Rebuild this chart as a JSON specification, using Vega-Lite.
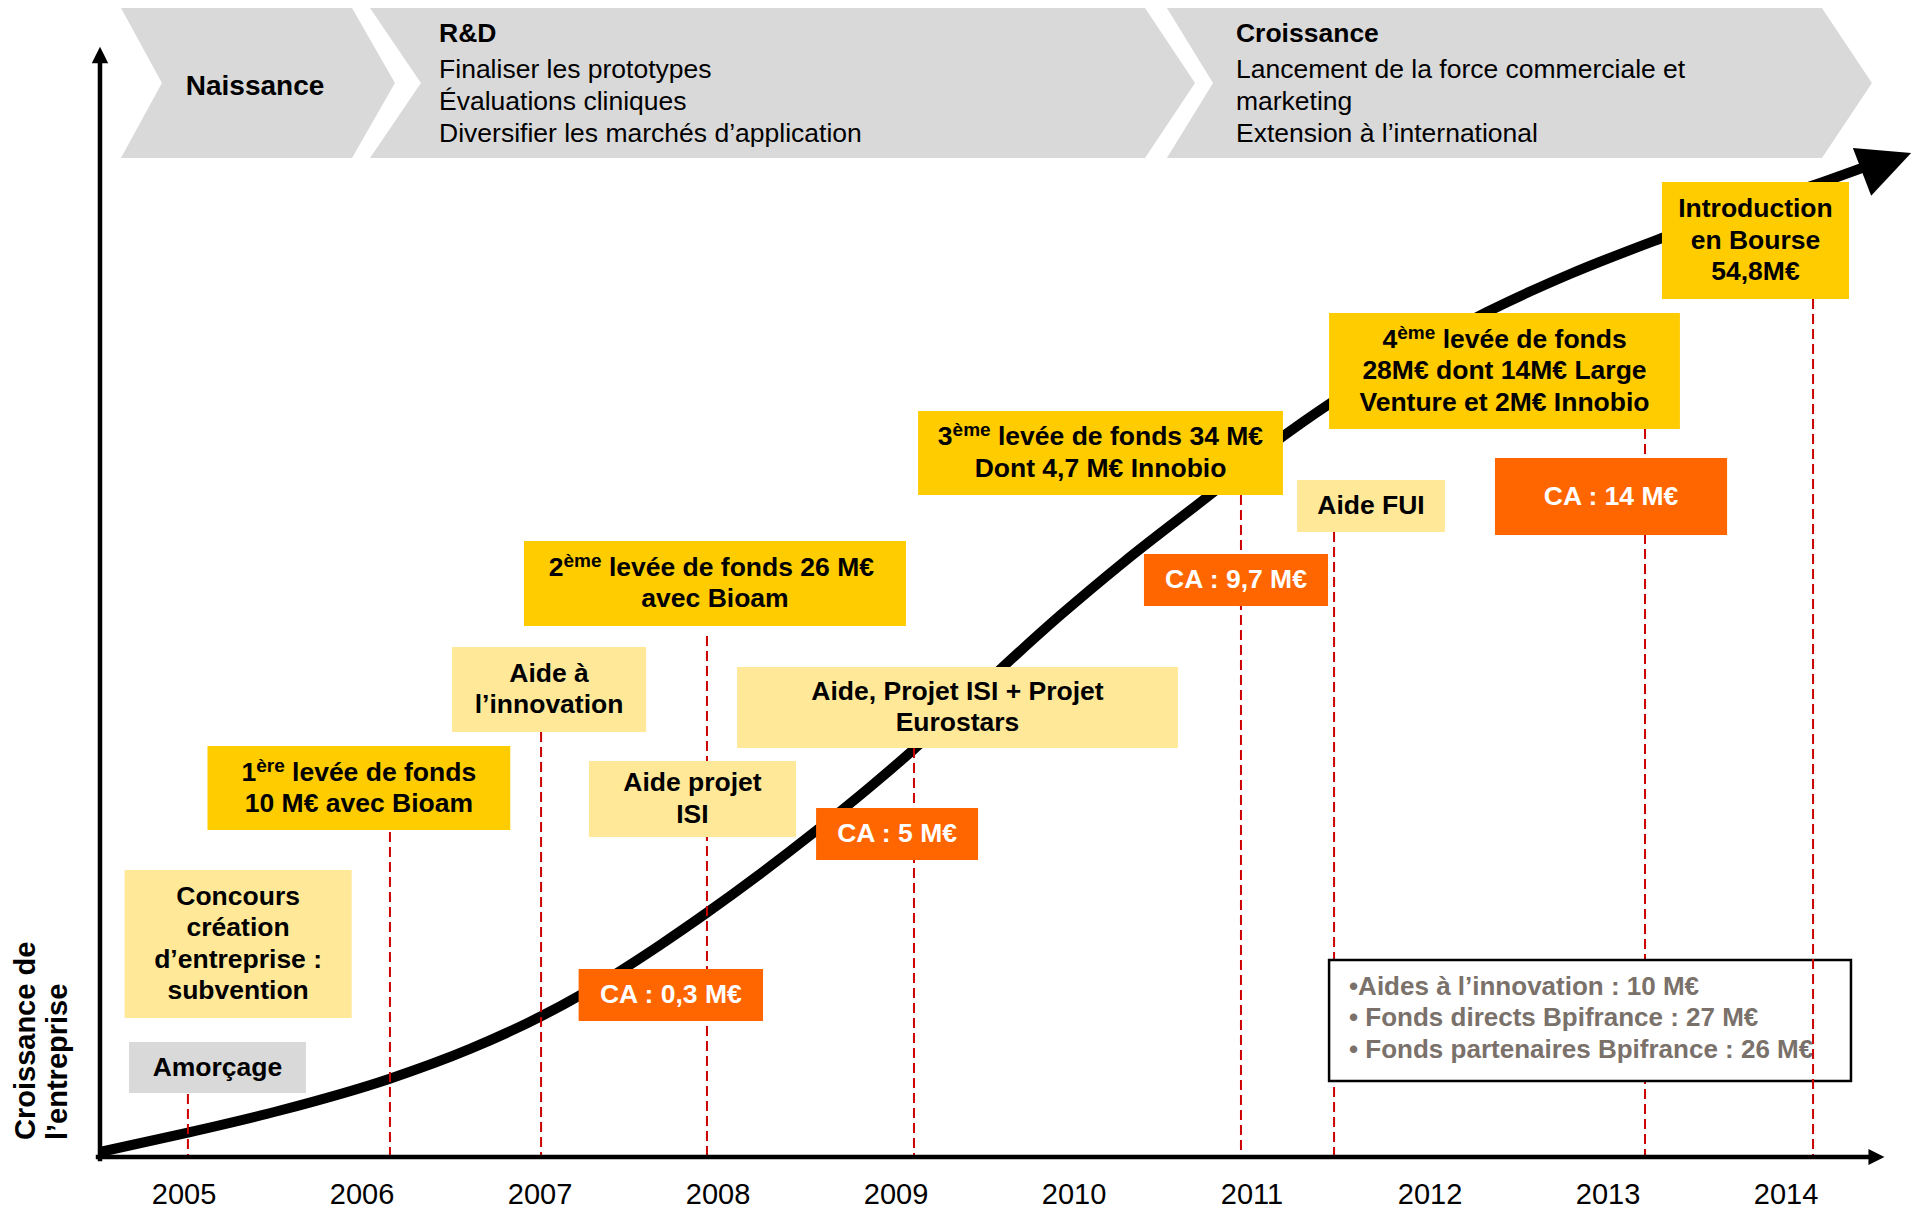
{
  "$schema": "https://vega.github.io/schema/vega-lite/v6.json",
  "width": 1914,
  "height": 1213,
  "padding": 0,
  "autosize": {"type": "none"},
  "background": "white",
  "config": {"view": {"stroke": null}, "font": "Liberation Sans"},
  "datasets": {
    "phases": [
      {"phase": "Naissance", "y": 114.9, "left": 2004.646, "right": 2005.944},
      {"phase": "Naissance", "y": 107.4, "left": 2004.876, "right": 2006.185},
      {"phase": "Naissance", "y": 99.9, "left": 2004.646, "right": 2005.944},
      {"phase": "R&D", "y": 114.9, "left": 2006.045, "right": 2010.399},
      {"phase": "R&D", "y": 107.4, "left": 2006.331, "right": 2010.68},
      {"phase": "R&D", "y": 99.9, "left": 2006.045, "right": 2010.399},
      {"phase": "Croissance", "y": 114.9, "left": 2010.522, "right": 2014.202},
      {"phase": "Croissance", "y": 107.4, "left": 2010.781, "right": 2014.483},
      {"phase": "Croissance", "y": 99.9, "left": 2010.522, "right": 2014.202}
    ],
    "phaseText": [
      {"text": "Naissance", "x": 2005.399, "y": 107.0, "role": "phase"},
      {"text": "R&D", "x": 2006.433, "y": 112.3, "role": "heading"},
      {"text": "Finaliser les prototypes", "x": 2006.433, "y": 108.7, "role": "detail"},
      {"text": "Évaluations cliniques", "x": 2006.433, "y": 105.5, "role": "detail"},
      {"text": "Diversifier les marchés d’application", "x": 2006.433, "y": 102.3, "role": "detail"},
      {"text": "Croissance", "x": 2010.91, "y": 112.3, "role": "heading"},
      {"text": "Lancement de la force commerciale et", "x": 2010.91, "y": 108.7, "role": "detail"},
      {"text": "marketing", "x": 2010.91, "y": 105.5, "role": "detail"},
      {"text": "Extension à l’international", "x": 2010.91, "y": 102.3, "role": "detail"}
    ],
    "curve": [
      {"x": 2004.528, "y": 0.5},
      {"x": 2005.022, "y": 2.44},
      {"x": 2005.539, "y": 4.65},
      {"x": 2006.152, "y": 7.81},
      {"x": 2006.607, "y": 10.81},
      {"x": 2007.006, "y": 14.07},
      {"x": 2007.219, "y": 16.12},
      {"x": 2007.438, "y": 18.46},
      {"x": 2007.674, "y": 21.19},
      {"x": 2007.938, "y": 24.43},
      {"x": 2008.236, "y": 28.3},
      {"x": 2008.534, "y": 32.38},
      {"x": 2008.854, "y": 37.0},
      {"x": 2009.096, "y": 40.7},
      {"x": 2009.36, "y": 44.98},
      {"x": 2009.59, "y": 48.83},
      {"x": 2009.921, "y": 54.14},
      {"x": 2010.281, "y": 59.52},
      {"x": 2010.787, "y": 66.54},
      {"x": 2011.18, "y": 72.14},
      {"x": 2011.433, "y": 75.29},
      {"x": 2011.831, "y": 79.7},
      {"x": 2012.32, "y": 84.5},
      {"x": 2012.787, "y": 88.3},
      {"x": 2013.303, "y": 91.9},
      {"x": 2013.798, "y": 95.1},
      {"x": 2014.208, "y": 97.5},
      {"x": 2014.427, "y": 98.9}
    ],
    "dashes": [
      {"x": 2005.022, "y": 6.3, "y2": 0},
      {"x": 2006.157, "y": 32.5, "y2": 0},
      {"x": 2007.006, "y": 42.5, "y2": 0},
      {"x": 2007.938, "y": 52.1, "y2": 0},
      {"x": 2009.101, "y": 40.9, "y2": 0},
      {"x": 2010.938, "y": 66.2, "y2": 0},
      {"x": 2011.461, "y": 62.5, "y2": 0},
      {"x": 2013.208, "y": 72.8, "y2": 0},
      {"x": 2014.152, "y": 85.8, "y2": 0}
    ],
    "boxes": [
      {"label": "Amorçage", "kind": "Amorçage", "x": 2004.691, "x2": 2005.685, "y": 11.5, "y2": 6.4},
      {"label": "Concours\ncréation\nd’entreprise :\nsubvention", "kind": "Aide", "x": 2004.666, "x2": 2005.942, "y": 28.7, "y2": 13.9},
      {"label": " \n10 M€ avec Bioam", "kind": "Levée de fonds", "x": 2005.132, "x2": 2006.833, "y": 41.1, "y2": 32.7},
      {"label": "Aide à\nl’innovation", "kind": "Aide", "x": 2006.506, "x2": 2007.596, "y": 51.0, "y2": 42.5},
      {"label": "Aide projet\nISI", "kind": "Aide", "x": 2007.275, "x2": 2008.438, "y": 39.6, "y2": 32.0},
      {"label": " \navec Bioam", "kind": "Levée de fonds", "x": 2006.91, "x2": 2009.056, "y": 61.6, "y2": 53.1},
      {"label": "CA : 0,3 M€", "kind": "CA", "x": 2007.217, "x2": 2008.253, "y": 18.8, "y2": 13.6},
      {"label": "Aide, Projet ISI + Projet\nEurostars", "kind": "Aide", "x": 2008.107, "x2": 2010.584, "y": 49.0, "y2": 40.9},
      {"label": "CA : 5 M€", "kind": "CA", "x": 2008.551, "x2": 2009.461, "y": 34.9, "y2": 29.7},
      {"label": " \nDont 4,7 M€ Innobio", "kind": "Levée de fonds", "x": 2009.124, "x2": 2011.174, "y": 74.6, "y2": 66.2},
      {"label": "CA : 9,7 M€", "kind": "CA", "x": 2010.393, "x2": 2011.427, "y": 60.3, "y2": 55.1},
      {"label": "Aide FUI", "kind": "Aide", "x": 2011.253, "x2": 2012.084, "y": 67.7, "y2": 62.5},
      {"label": " \n28M€ dont 14M€ Large\nVenture et 2M€ Innobio", "kind": "Levée de fonds", "x": 2011.433, "x2": 2013.404, "y": 84.4, "y2": 72.8},
      {"label": "CA : 14 M€", "kind": "CA", "x": 2012.365, "x2": 2013.669, "y": 69.9, "y2": 62.2},
      {"label": "Introduction\nen Bourse\n54,8M€", "kind": "Levée de fonds", "x": 2013.303, "x2": 2014.354, "y": 97.5, "y2": 85.8}
    ],
    "ordinals": [
      {"text": "1", "part": "base", "x": 2005.323, "y": 38.45},
      {"text": "ère", "part": "sup", "x": 2005.406, "y": 39.15},
      {"text": "levée de fonds", "part": "base", "x": 2005.607, "y": 38.45},
      {"text": "2", "part": "base", "x": 2007.049, "y": 58.93},
      {"text": "ème", "part": "sup", "x": 2007.132, "y": 59.63},
      {"text": "levée de fonds 26  M€", "part": "base", "x": 2007.387, "y": 58.93},
      {"text": "3", "part": "base", "x": 2009.235, "y": 71.98},
      {"text": "ème", "part": "sup", "x": 2009.318, "y": 72.68},
      {"text": "levée de fonds 34 M€", "part": "base", "x": 2009.573, "y": 71.98},
      {"text": "4", "part": "base", "x": 2011.733, "y": 81.75},
      {"text": "ème", "part": "sup", "x": 2011.816, "y": 82.45},
      {"text": "levée de fonds", "part": "base", "x": 2012.071, "y": 81.75}
    ],
    "summary": [
      {"text": "•Aides à l’innovation : 10 M€", "x": 2011.545, "y": 17.0},
      {"text": "• Fonds directs Bpifrance : 27 M€", "x": 2011.545, "y": 13.9},
      {"text": "• Fonds partenaires  Bpifrance : 26 M€", "x": 2011.545, "y": 10.7}
    ],
    "years": [
      {"x": 2005, "y": -3.8}, {"x": 2006, "y": -3.8}, {"x": 2007, "y": -3.8}, {"x": 2008, "y": -3.8}, {"x": 2009, "y": -3.8},
      {"x": 2010, "y": -3.8}, {"x": 2011, "y": -3.8}, {"x": 2012, "y": -3.8}, {"x": 2013, "y": -3.8}, {"x": 2014, "y": -3.8}
    ],
    "ytitle": [
      {"text": "Croissance de", "x": 2004.163, "y": 1.7},
      {"text": "l’entreprise", "x": 2004.343, "y": 1.7}
    ]
  },
  "layer": [
    {
      "data": {"name": "phases"},
      "mark": {"type": "area", "orient": "horizontal", "color": "#d9d9d9", "opacity": 1},
      "encoding": {
        "y": {"field": "y", "type": "quantitative", "scale": {"domain": [-5.6, 115.7], "nice": false, "zero": false}, "axis": null},
        "x": {"field": "left", "type": "quantitative", "scale": {"domain": [2003.9663, 2014.7191], "nice": false, "zero": false}, "axis": null, "stack": null},
        "x2": {"field": "right"},
        "detail": {"field": "phase", "type": "nominal"}
      }
    },
    {
      "data": {"name": "phaseText"},
      "transform": [{"filter": "datum.role === 'phase'"}],
      "mark": {"type": "text", "fontSize": 28, "fontWeight": "bold", "align": "center", "baseline": "middle", "color": "black"},
      "encoding": {
        "x": {"field": "x", "type": "quantitative", "scale": {"domain": [2003.9663, 2014.7191], "nice": false, "zero": false}, "axis": null},
        "y": {"field": "y", "type": "quantitative", "scale": {"domain": [-5.6, 115.7], "nice": false, "zero": false}, "axis": null},
        "text": {"field": "text"}
      }
    },
    {
      "data": {"name": "phaseText"},
      "transform": [{"filter": "datum.role === 'heading'"}],
      "mark": {"type": "text", "fontSize": 26.5, "fontWeight": "bold", "align": "left", "baseline": "middle", "color": "black"},
      "encoding": {
        "x": {"field": "x", "type": "quantitative", "scale": {"domain": [2003.9663, 2014.7191], "nice": false, "zero": false}, "axis": null},
        "y": {"field": "y", "type": "quantitative", "scale": {"domain": [-5.6, 115.7], "nice": false, "zero": false}, "axis": null},
        "text": {"field": "text"}
      }
    },
    {
      "data": {"name": "phaseText"},
      "transform": [{"filter": "datum.role === 'detail'"}],
      "mark": {"type": "text", "fontSize": 26.5, "fontWeight": "normal", "align": "left", "baseline": "middle", "color": "black"},
      "encoding": {
        "x": {"field": "x", "type": "quantitative", "scale": {"domain": [2003.9663, 2014.7191], "nice": false, "zero": false}, "axis": null},
        "y": {"field": "y", "type": "quantitative", "scale": {"domain": [-5.6, 115.7], "nice": false, "zero": false}, "axis": null},
        "text": {"field": "text"}
      }
    },
    {
      "data": {"name": "curve"},
      "mark": {"type": "line", "color": "black", "strokeWidth": 10, "interpolate": "monotone", "strokeCap": "butt"},
      "encoding": {
        "x": {"field": "x", "type": "quantitative", "scale": {"domain": [2003.9663, 2014.7191], "nice": false, "zero": false}, "axis": null},
        "y": {"field": "y", "type": "quantitative", "scale": {"domain": [-5.6, 115.7], "nice": false, "zero": false}, "axis": null}
      }
    },
    {
      "data": {"name": "dashes"},
      "transform": [{"filter": "datum.x < 2014"}],
      "mark": {"type": "rule", "color": "#cc0000", "strokeWidth": 2, "strokeDash": [10, 5]},
      "encoding": {
        "x": {"field": "x", "type": "quantitative", "scale": {"domain": [2003.9663, 2014.7191], "nice": false, "zero": false}, "axis": null},
        "y": {"field": "y", "type": "quantitative", "scale": {"domain": [-5.6, 115.7], "nice": false, "zero": false}, "axis": null},
        "y2": {"field": "y2"}
      }
    },
    {
      "data": {"name": "boxes"},
      "mark": {"type": "rect", "opacity": 1},
      "encoding": {
        "x": {"field": "x", "type": "quantitative", "scale": {"domain": [2003.9663, 2014.7191], "nice": false, "zero": false}, "axis": null},
        "x2": {"field": "x2"},
        "y": {"field": "y", "type": "quantitative", "scale": {"domain": [-5.6, 115.7], "nice": false, "zero": false}, "axis": null},
        "y2": {"field": "y2"},
        "color": {"field": "kind", "type": "nominal", "scale": {"domain": ["Amorçage", "Aide", "Levée de fonds", "CA"], "range": ["#d9d9d9", "#ffe999", "#ffcc00", "#ff6600"]}, "legend": null}
      }
    },
    {
      "data": {"name": "boxes"},
      "transform": [
        {"calculate": "(datum.x + datum.x2) / 2", "as": "xm"},
        {"calculate": "(datum.y + datum.y2) / 2 + (length(split(datum.label, '\\n')) - 1) * 1.575", "as": "ym"}
      ],
      "mark": {"type": "text", "fontSize": 26.5, "fontWeight": "bold", "align": "center", "baseline": "middle", "lineBreak": "\n", "lineHeight": 31.5},
      "encoding": {
        "x": {"field": "xm", "type": "quantitative", "scale": {"domain": [2003.9663, 2014.7191], "nice": false, "zero": false}, "axis": null},
        "y": {"field": "ym", "type": "quantitative", "scale": {"domain": [-5.6, 115.7], "nice": false, "zero": false}, "axis": null},
        "text": {"field": "label"},
        "color": {"condition": {"test": "datum.kind === 'CA'", "value": "white"}, "value": "black"}
      }
    },
    {
      "data": {"name": "ordinals"},
      "transform": [{"filter": "datum.part === 'base'"}],
      "mark": {"type": "text", "fontSize": 26.5, "fontWeight": "bold", "align": "left", "baseline": "middle", "color": "black"},
      "encoding": {
        "x": {"field": "x", "type": "quantitative", "scale": {"domain": [2003.9663, 2014.7191], "nice": false, "zero": false}, "axis": null},
        "y": {"field": "y", "type": "quantitative", "scale": {"domain": [-5.6, 115.7], "nice": false, "zero": false}, "axis": null},
        "text": {"field": "text"}
      }
    },
    {
      "data": {"name": "ordinals"},
      "transform": [{"filter": "datum.part === 'sup'"}],
      "mark": {"type": "text", "fontSize": 19, "fontWeight": "bold", "align": "left", "baseline": "middle", "color": "black"},
      "encoding": {
        "x": {"field": "x", "type": "quantitative", "scale": {"domain": [2003.9663, 2014.7191], "nice": false, "zero": false}, "axis": null},
        "y": {"field": "y", "type": "quantitative", "scale": {"domain": [-5.6, 115.7], "nice": false, "zero": false}, "axis": null},
        "text": {"field": "text"}
      }
    },
    {
      "data": {"values": [{"x": 2011.433, "x2": 2014.365, "y": 19.7, "y2": 7.6}]},
      "mark": {"type": "rect", "fill": "white", "stroke": "black", "strokeWidth": 2.5, "opacity": 1},
      "encoding": {
        "x": {"field": "x", "type": "quantitative", "scale": {"domain": [2003.9663, 2014.7191], "nice": false, "zero": false}, "axis": null},
        "x2": {"field": "x2"},
        "y": {"field": "y", "type": "quantitative", "scale": {"domain": [-5.6, 115.7], "nice": false, "zero": false}, "axis": null},
        "y2": {"field": "y2"}
      }
    },
    {
      "data": {"name": "summary"},
      "mark": {"type": "text", "fontSize": 26, "fontWeight": "bold", "align": "left", "baseline": "middle", "color": "#7a716b"},
      "encoding": {
        "x": {"field": "x", "type": "quantitative", "scale": {"domain": [2003.9663, 2014.7191], "nice": false, "zero": false}, "axis": null},
        "y": {"field": "y", "type": "quantitative", "scale": {"domain": [-5.6, 115.7], "nice": false, "zero": false}, "axis": null},
        "text": {"field": "text"}
      }
    },
    {
      "data": {"name": "dashes"},
      "transform": [{"filter": "datum.x > 2014"}],
      "mark": {"type": "rule", "color": "#cc0000", "strokeWidth": 2, "strokeDash": [10, 5]},
      "encoding": {
        "x": {"field": "x", "type": "quantitative", "scale": {"domain": [2003.9663, 2014.7191], "nice": false, "zero": false}, "axis": null},
        "y": {"field": "y", "type": "quantitative", "scale": {"domain": [-5.6, 115.7], "nice": false, "zero": false}, "axis": null},
        "y2": {"field": "y2"}
      }
    },
    {
      "data": {"values": [{"x": 2004.528, "y": -0.2, "y2": 109.9}]},
      "mark": {"type": "rule", "color": "black", "strokeWidth": 4.5, "strokeCap": "square"},
      "encoding": {
        "x": {"field": "x", "type": "quantitative", "scale": {"domain": [2003.9663, 2014.7191], "nice": false, "zero": false}, "axis": null},
        "y": {"field": "y", "type": "quantitative", "scale": {"domain": [-5.6, 115.7], "nice": false, "zero": false}, "axis": null},
        "y2": {"field": "y2"}
      }
    },
    {
      "data": {"values": [{"x": 2004.517, "x2": 2014.472, "y": 0}]},
      "mark": {"type": "rule", "color": "black", "strokeWidth": 4.5, "strokeCap": "square"},
      "encoding": {
        "x": {"field": "x", "type": "quantitative", "scale": {"domain": [2003.9663, 2014.7191], "nice": false, "zero": false}, "axis": null},
        "x2": {"field": "x2"},
        "y": {"field": "y", "type": "quantitative", "scale": {"domain": [-5.6, 115.7], "nice": false, "zero": false}, "axis": null}
      }
    },
    {
      "data": {"values": [{"x": 2004.528, "y": 110.2}]},
      "mark": {"type": "point", "shape": "M0,-1L1,1L-1,1Z", "size": 272, "filled": true, "color": "black", "opacity": 1, "strokeWidth": 0},
      "encoding": {
        "x": {"field": "x", "type": "quantitative", "scale": {"domain": [2003.9663, 2014.7191], "nice": false, "zero": false}, "axis": null},
        "y": {"field": "y", "type": "quantitative", "scale": {"domain": [-5.6, 115.7], "nice": false, "zero": false}, "axis": null}
      }
    },
    {
      "data": {"values": [{"x": 2014.508, "y": 0}]},
      "mark": {"type": "point", "shape": "M0,-1L1,1L-1,1Z", "size": 256, "angle": 90, "filled": true, "color": "black", "opacity": 1, "strokeWidth": 0},
      "encoding": {
        "x": {"field": "x", "type": "quantitative", "scale": {"domain": [2003.9663, 2014.7191], "nice": false, "zero": false}, "axis": null},
        "y": {"field": "y", "type": "quantitative", "scale": {"domain": [-5.6, 115.7], "nice": false, "zero": false}, "axis": null}
      }
    },
    {
      "data": {"values": [{"x": 2014.565, "y": 99.45}]},
      "mark": {"type": "point", "shape": "M0,-1L0.97,1L-0.97,1Z", "size": 2767, "angle": 69, "filled": true, "color": "black", "opacity": 1, "strokeWidth": 0},
      "encoding": {
        "x": {"field": "x", "type": "quantitative", "scale": {"domain": [2003.9663, 2014.7191], "nice": false, "zero": false}, "axis": null},
        "y": {"field": "y", "type": "quantitative", "scale": {"domain": [-5.6, 115.7], "nice": false, "zero": false}, "axis": null}
      }
    },
    {
      "data": {"name": "years"},
      "mark": {"type": "text", "fontSize": 29, "align": "center", "baseline": "middle", "color": "black"},
      "encoding": {
        "x": {"field": "x", "type": "quantitative", "scale": {"domain": [2003.9663, 2014.7191], "nice": false, "zero": false}, "axis": null},
        "y": {"field": "y", "type": "quantitative", "scale": {"domain": [-5.6, 115.7], "nice": false, "zero": false}, "axis": null},
        "text": {"field": "x", "type": "quantitative", "format": "d"}
      }
    },
    {
      "data": {"name": "ytitle"},
      "mark": {"type": "text", "fontSize": 29, "fontWeight": "bold", "align": "left", "baseline": "alphabetic", "angle": 270, "color": "black"},
      "encoding": {
        "x": {"field": "x", "type": "quantitative", "scale": {"domain": [2003.9663, 2014.7191], "nice": false, "zero": false}, "axis": null},
        "y": {"field": "y", "type": "quantitative", "scale": {"domain": [-5.6, 115.7], "nice": false, "zero": false}, "axis": null},
        "text": {"field": "text"}
      }
    }
  ]
}
